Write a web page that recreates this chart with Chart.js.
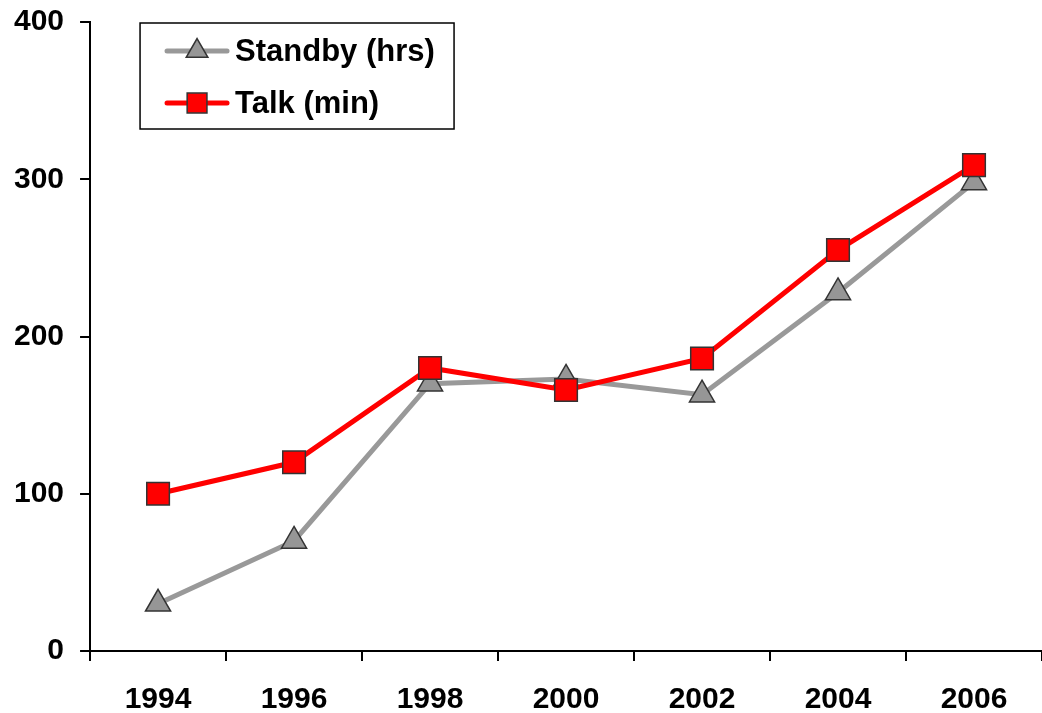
<!DOCTYPE html>
<html>
<head>
<meta charset="utf-8">
<script src="https://cdn.jsdelivr.net/npm/chart.js@4"></script>
<style>
  html, body { margin: 0; padding: 0; background: #fff; }
  #wrap { width: 1042px; height: 713px; position: relative; }
</style>
</head>
<body>
<div id="wrap"><canvas id="chart"></canvas></div>
<script>
  const years = ['1994', '1996', '1998', '2000', '2002', '2004', '2006'];
  const standbyHrs = [30, 70, 170, 173, 163, 228, 298];
  const talkMin = [100, 120, 180, 166, 186, 255, 309];
  const yTicks = [0, 100, 200, 300, 400];

  const font = { family: '"Liberation Sans", Arial, sans-serif', size: 30, weight: 'bold' };
  // small lineHeight only so the y scale doesn't reserve extra room above 400
  const yFont = { ...font, lineHeight: 0.4 };

  // legend box drawn inside the plot, top-left, like the original
  const boxLegend = {
    id: 'boxLegend',
    afterDatasetsDraw(chart) {
      const ctx = chart.ctx;
      const area = chart.chartArea;
      const x = area.left + 50, y = area.top + 1, w = 314, h = 106;
      ctx.save();
      ctx.fillStyle = '#fff';
      ctx.fillRect(x, y, w, h);
      ctx.strokeStyle = '#000';
      ctx.lineWidth = 1.5;
      ctx.strokeRect(x, y, w, h);
      const order = [1, 0]; // Standby first, then Talk
      order.forEach((di, i) => {
        const ds = chart.data.datasets[di];
        const cy = y + 28 + i * 52;
        ctx.strokeStyle = ds.borderColor;
        ctx.lineWidth = ds.borderWidth;
        ctx.lineCap = 'round';
        ctx.beginPath();
        ctx.moveTo(x + 27, cy);
        ctx.lineTo(x + 87, cy);
        ctx.stroke();
        ctx.fillStyle = ds.pointBackgroundColor;
        ctx.strokeStyle = ds.pointBorderColor;
        ctx.lineWidth = ds.pointBorderWidth;
        Chart.helpers.drawPoint(ctx, { pointStyle: ds.pointStyle, radius: ds.pointRadius - 2, rotation: 0, borderWidth: ds.pointBorderWidth }, x + 57, cy);
        ctx.fillStyle = '#000';
        ctx.font = 'bold 31px "Liberation Sans", Arial, sans-serif';
        ctx.textBaseline = 'middle';
        ctx.fillText(ds.label, x + 95, cy + 1);
      });
      ctx.restore();
    }
  };

  new Chart(document.getElementById('chart'), {
    type: 'line',
    data: {
      labels: years,
      datasets: [
        {
          label: 'Talk (min)',
          data: talkMin,
          borderColor: '#ff0000',
          borderWidth: 5,
          pointStyle: 'rect',
          pointRadius: 16,
          pointBackgroundColor: '#ff0000',
          pointBorderColor: '#333',
          pointBorderWidth: 1.5,
          order: 0,
        },
        {
          label: 'Standby (hrs)',
          data: standbyHrs,
          borderColor: '#999999',
          borderWidth: 5,
          pointStyle: 'triangle',
          pointRadius: 14.5,
          pointBackgroundColor: '#969696',
          pointBorderColor: '#333',
          pointBorderWidth: 1.5,
          order: 1,
        },
      ],
    },
    options: {
      responsive: true,
      maintainAspectRatio: false,
      animation: false,
      layout: { autoPadding: false, padding: { left: -2, top: 22, right: 0, bottom: -26 } },
      plugins: {
        legend: { display: false },
        tooltip: { enabled: false },
      },
      scales: {
        x: {
          offset: true,
          grid: { offset: true, drawOnChartArea: false, drawTicks: true, tickLength: 10, color: '#000', lineWidth: 2 },
          border: { color: '#000', width: 2 },
          ticks: { color: '#000', font, padding: 21, maxRotation: 0 },
        },
        y: {
          min: 0,
          max: 400,
          afterBuildTicks: (s) => { s.ticks = yTicks.map(v => ({ value: v })); },
          grid: { drawOnChartArea: false, drawTicks: true, tickLength: 10, color: '#000', lineWidth: 2 },
          border: { color: '#000', width: 2 },
          ticks: { color: '#000', font: yFont, padding: 16 },
        },
      },
    },
    plugins: [boxLegend],
  });
</script>
</body>
</html>
